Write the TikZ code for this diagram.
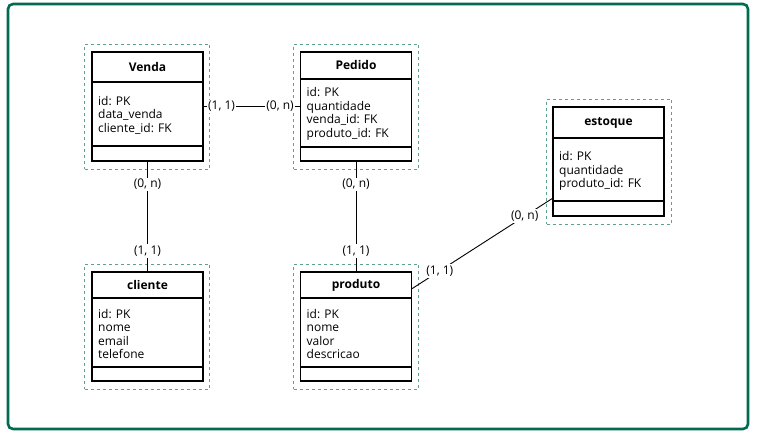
\documentclass[tikz,border=0pt]{standalone}
\usepackage{fontspec}
\setmainfont{Open Sans}
\definecolor{framegreen}{RGB}{0,107,80}
\definecolor{groupgreen}{RGB}{95,160,142}
\tikzset{
  entity/.style={draw=black,line width=1.2pt,minimum width=111pt,minimum height=109pt,inner sep=0pt,outer sep=0pt},
  group/.style={draw=groupgreen,line width=0.9pt,dash pattern=on 3pt off 3pt,minimum width=125pt,minimum height=125pt,inner sep=0pt},
  title/.style={font=\fontsize{12}{14}\selectfont\bfseries,inner sep=0pt},
  attrs/.style={anchor=west,align=left,font=\fontsize{12}{13.5}\selectfont,inner sep=0pt},
  card/.style={fill=white,inner sep=1.5pt,font=\fontsize{12}{14}\selectfont},
  rel/.style={line width=0.9pt}
}
\begin{document}
\begin{tikzpicture}[x=1pt,y=-1pt]

%SPACING
\useasboundingbox (0,0) rectangle (759,436);
%SPACING

\draw[framegreen,line width=2.6pt,rounded corners=5pt] (8,4) rectangle (748,429);

\node[group](gvenda) at (147,106.5) {};
\node[group](gpedido) at (356,106.5) {};
\node[group](gcliente) at (147,326.5) {};
\node[group](gproduto) at (356,326.5) {};
\node[group](gestoque) at (609,161.5) {};

\node[entity](venda) at (147.5,106.5) {};
\node[entity](pedido) at (356,106.5) {};
\node[entity](cliente) at (147.5,326.5) {};
\node[entity](produto) at (356,326.5) {};
\node[entity](estoque) at (608.5,161.5) {};

\draw[line width=1.2pt] ([yshift=-30pt]venda.north west) -- ([yshift=-30pt]venda.north east);
\draw[line width=1.2pt] ([yshift=15pt]venda.south west) -- ([yshift=15pt]venda.south east);
\node[title](tvenda) at ([yshift=-15pt]venda.north) {Venda};
\node[attrs](avenda) at ([xshift=6pt,yshift=-63pt]venda.north west) {id: PK\\data\_venda\\cliente\_id: FK};

\draw[line width=1.2pt] ([yshift=-27pt]pedido.north west) -- ([yshift=-27pt]pedido.north east);
\draw[line width=1.2pt] ([yshift=14pt]pedido.south west) -- ([yshift=14pt]pedido.south east);
\node[title](tpedido) at ([yshift=-13.5pt]pedido.north) {Pedido};
\node[attrs](apedido) at ([xshift=6pt,yshift=-62pt]pedido.north west) {id: PK\\quantidade\\venda\_id: FK\\produto\_id: FK};

\draw[line width=1.2pt] ([yshift=-26pt]cliente.north west) -- ([yshift=-26pt]cliente.north east);
\draw[line width=1.2pt] ([yshift=14pt]cliente.south west) -- ([yshift=14pt]cliente.south east);
\node[title](tcliente) at ([yshift=-13pt]cliente.north) {cliente};
\node[attrs](acliente) at ([xshift=6pt,yshift=-62pt]cliente.north west) {id: PK\\nome\\email\\telefone};

\draw[line width=1.2pt] ([yshift=-26pt]produto.north west) -- ([yshift=-26pt]produto.north east);
\draw[line width=1.2pt] ([yshift=14pt]produto.south west) -- ([yshift=14pt]produto.south east);
\node[title](tproduto) at ([yshift=-13pt]produto.north) {produto};
\node[attrs](aproduto) at ([xshift=6pt,yshift=-62pt]produto.north west) {id: PK\\nome\\valor\\descricao};

\draw[line width=1.2pt] ([yshift=-31pt]estoque.north west) -- ([yshift=-31pt]estoque.north east);
\draw[line width=1.2pt] ([yshift=15pt]estoque.south west) -- ([yshift=15pt]estoque.south east);
\node[title](testoque) at ([yshift=-15.5pt]estoque.north) {estoque};
\node[attrs](aestoque) at ([xshift=6pt,yshift=-64pt]estoque.north west) {id: PK\\quantidade\\produto\_id: FK};

\draw[rel] (venda) -- (pedido) node[card,pos=0.19]{(1, 1)} node[card,pos=0.79]{(0, n)};
\draw[rel] (venda) -- (cliente) node[card,pos=0.21]{(0, n)} node[card,pos=0.81]{(1, 1)};
\draw[rel] (pedido) -- (produto) node[card,pos=0.21]{(0, n)} node[card,pos=0.81]{(1, 1)};
\draw[rel] ([yshift=-17pt]produto.north east) -- ([yshift=18pt]estoque.south west) node[card,pos=0.2]{(1, 1)} node[card,pos=0.8]{(0, n)};

\end{tikzpicture}
\end{document}
